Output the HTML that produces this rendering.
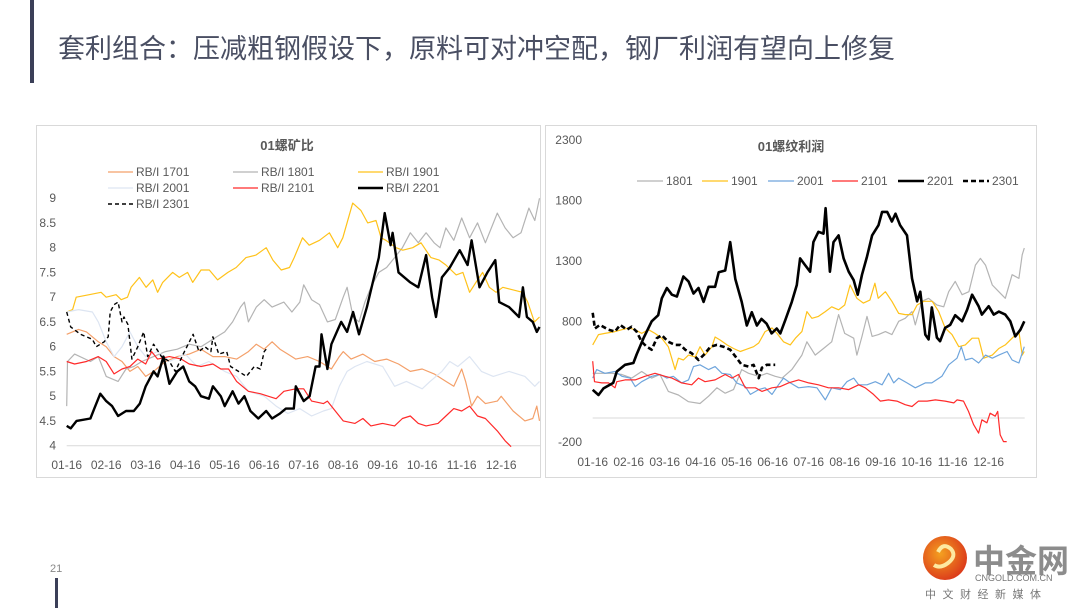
<!DOCTYPE html>
<html><head><meta charset="utf-8">
<style>
body{margin:0;width:1080px;height:608px;overflow:hidden;background:#fff;font-family:"Liberation Sans","Noto Sans CJK SC",sans-serif;}
svg text{font-family:"Liberation Sans","Noto Sans CJK SC",sans-serif;}
</style></head>
<body>
<svg id="s" width="1080" height="608" xmlns="http://www.w3.org/2000/svg">
<rect x="30" y="0" width="4" height="83" fill="#3b3f58"/>
<text x="58" y="58" font-size="27" fill="#4a4f63">套利组合：压减粗钢假设下，原料可对冲空配，钢厂利润有望向上修复</text>
<rect x="55" y="578" width="3" height="30" fill="#3b3f58"/>
<text x="50" y="572" font-size="11" fill="#888">21</text>

<g id="L">
<rect x="36.5" y="125.5" width="504" height="352" fill="#fff" stroke="#d9d9d9"/>
<text x="287" y="150" font-size="13" font-weight="bold" fill="#595959" text-anchor="middle">01螺矿比</text>
</g>
<g id="R">
<rect x="545.5" y="125.5" width="491" height="352" fill="#fff" stroke="#d9d9d9"/>
<text x="791" y="151" font-size="13" font-weight="bold" fill="#595959" text-anchor="middle">01螺纹利润</text>
</g>

<g>
<defs><radialGradient id="lg" cx="0.4" cy="0.4" r="0.7"><stop offset="0" stop-color="#f4a020"/><stop offset="1" stop-color="#d9301a"/></radialGradient></defs>
<circle cx="945" cy="558" r="22" fill="url(#lg)"/>
<path d="M938 552 q5 -10 13 -3 q6 7 -3 14 q-8 6 -14 2" fill="none" stroke="#fde9a0" stroke-width="4"/>
<text x="973" y="572" font-size="32" font-weight="bold" fill="#8c8c8c">中金网</text>
<text x="975" y="581" font-size="9" fill="#777">CNGOLD.COM.CN</text>
<text x="925" y="598" font-size="11" fill="#777" letter-spacing="6.5">中文财经新媒体</text>
</g>
</svg>
<script>
// ---- Left chart data: [month offset from 01-16, ratio] ----
const leftMonths=["01-16","02-16","03-16","04-16","05-16","06-16","07-16","08-16","09-16","10-16","11-16","12-16"];
const leftTicks=[4,4.5,5,5.5,6,6.5,7,7.5,8,8.5,9];
const rb1701=[[0,6.25],[0.3,6.35],[0.5,6.3],[0.8,6.1],[1.0,6.0],[1.2,5.8],[1.4,5.7],[1.6,5.5],[1.8,5.6],[2.0,5.4],[2.2,5.5],[2.5,5.7],[2.8,5.8],[3.1,5.85],[3.4,5.95],[3.7,5.8],[4.0,5.8],[4.3,5.75],[4.6,5.9],[4.8,6.05],[5.0,5.95],[5.2,6.1],[5.4,5.95],[5.6,5.85],[5.8,5.75],[6.1,5.8],[6.4,5.7],[6.7,5.55],[6.9,5.8],[7.0,5.9],[7.2,5.75],[7.5,5.85],[7.8,5.7],[8.1,5.75],[8.4,5.65],[8.7,5.5],[9.0,5.55],[9.3,5.45],[9.6,5.3],[9.8,5.2],[10.0,5.55],[10.1,5.3],[10.25,4.8],[10.4,5.0],[10.6,4.85],[10.9,4.9],[11.0,5.0],[11.3,4.7],[11.6,4.5],[11.8,4.55],[11.9,4.8],[11.97,4.5]];
const rb1801=[[0,4.8],[0.02,5.7],[0.2,5.85],[0.6,5.7],[0.8,5.8],[1.0,5.4],[1.3,5.3],[1.5,5.55],[1.7,5.6],[1.9,5.7],[2.2,5.8],[2.5,5.9],[2.8,5.95],[3.1,6.05],[3.4,6.0],[3.6,6.1],[3.8,6.2],[4.0,6.3],[4.2,6.5],[4.4,6.8],[4.5,6.9],[4.6,6.5],[4.8,6.8],[5.0,6.95],[5.2,6.8],[5.5,6.9],[5.7,6.7],[5.9,6.9],[6.0,7.25],[6.2,6.95],[6.4,6.85],[6.6,6.5],[6.8,6.55],[7.0,7.0],[7.1,7.2],[7.25,6.6],[7.4,6.5],[7.55,6.9],[7.7,7.2],[7.9,7.5],[8.1,7.6],[8.3,7.8],[8.5,8.0],[8.7,8.3],[8.9,8.1],[9.1,8.3],[9.3,8.1],[9.45,8.0],[9.6,8.4],[9.8,8.15],[10.0,8.6],[10.2,8.2],[10.4,8.5],[10.6,8.1],[10.9,8.7],[11.1,8.4],[11.3,8.2],[11.5,8.3],[11.7,8.8],[11.85,8.55],[11.97,9.0]];
const rb1901=[[0,6.7],[0.15,6.75],[0.24,7.0],[0.57,7.05],[0.87,7.1],[1.0,7.0],[1.25,7.05],[1.38,6.95],[1.54,7.0],[1.63,7.2],[1.84,7.4],[2.01,7.2],[2.18,7.35],[2.3,7.1],[2.43,7.3],[2.68,7.5],[2.85,7.4],[3.06,7.5],[3.19,7.3],[3.4,7.55],[3.61,7.55],[3.82,7.35],[4.08,7.5],[4.29,7.6],[4.54,7.8],[4.79,7.85],[5.05,8.0],[5.22,7.75],[5.43,7.55],[5.64,7.6],[5.76,7.8],[5.97,8.2],[6.14,8.05],[6.4,8.15],[6.65,8.3],[6.86,8.0],[6.99,8.2],[7.24,8.9],[7.45,8.75],[7.62,8.5],[7.83,8.55],[7.96,8.2],[8.08,8.15],[8.34,8.0],[8.51,7.95],[8.76,8.0],[8.97,8.1],[9.22,7.8],[9.43,7.75],[9.6,7.65],[9.86,7.45],[10.03,7.5],[10.2,7.1],[10.36,7.3],[10.53,7.5],[10.7,7.2],[10.87,7.1],[11.04,7.2],[11.29,7.15],[11.54,7.1],[11.67,6.9],[11.84,6.5],[11.97,6.6]];
const rb2001=[[0,6.7],[0.3,6.75],[0.65,6.7],[0.8,6.5],[1.0,6.1],[1.2,5.8],[1.4,6.0],[1.6,6.3],[1.8,6.0],[2.0,5.8],[2.3,5.9],[2.6,5.7],[3.0,5.85],[3.3,5.6],[3.6,5.7],[4.0,5.5],[4.3,5.4],[4.6,5.1],[5.0,5.0],[5.3,4.8],[5.6,4.65],[5.9,4.75],[6.2,4.6],[6.5,4.7],[6.7,4.75],[6.9,5.2],[7.1,5.5],[7.3,5.6],[7.6,5.7],[8.0,5.6],[8.3,5.2],[8.6,5.3],[9.0,5.15],[9.2,5.3],[9.5,5.5],[9.7,5.7],[9.9,5.6],[10.2,5.8],[10.5,5.5],[10.8,5.4],[11.2,5.5],[11.6,5.4],[11.85,5.2],[11.97,5.3]];
const rb2101=[[0,5.7],[0.2,5.65],[0.5,5.7],[0.8,5.8],[1.0,5.7],[1.2,5.45],[1.4,5.55],[1.6,5.6],[1.8,5.75],[2.0,5.65],[2.15,5.9],[2.3,5.75],[2.6,5.8],[2.9,5.75],[3.1,5.65],[3.4,5.6],[3.7,5.65],[3.9,5.55],[4.1,5.55],[4.3,5.3],[4.6,5.1],[4.9,5.05],[5.1,5.0],[5.3,4.95],[5.5,5.1],[5.8,5.15],[6.0,5.15],[6.2,4.9],[6.5,4.85],[6.6,4.9],[6.8,4.7],[7.0,4.5],[7.3,4.45],[7.5,4.55],[7.7,4.4],[8.0,4.45],[8.3,4.4],[8.5,4.55],[8.7,4.6],[8.9,4.45],[9.1,4.4],[9.4,4.45],[9.6,4.6],[9.8,4.75],[10.0,4.7],[10.2,4.8],[10.4,4.6],[10.6,4.55],[10.9,4.3],[11.1,4.1],[11.25,3.98]];
const rb2201=[[0,4.4],[0.1,4.35],[0.25,4.5],[0.6,4.55],[0.7,4.75],[0.85,5.05],[1.0,4.9],[1.15,4.8],[1.3,4.6],[1.5,4.7],[1.7,4.7],[1.85,4.85],[2.0,5.2],[2.2,5.5],[2.3,5.4],[2.45,5.8],[2.6,5.25],[2.8,5.5],[2.95,5.6],[3.1,5.3],[3.25,5.2],[3.4,5.0],[3.6,4.95],[3.7,5.2],[3.9,5.0],[4.0,4.8],[4.2,5.1],[4.35,4.85],[4.5,5.0],[4.65,4.7],[4.85,4.55],[5.05,4.7],[5.2,4.55],[5.4,4.65],[5.55,4.75],[5.75,4.75],[5.8,5.2],[6.0,4.9],[6.15,5.0],[6.3,5.6],[6.4,5.6],[6.45,6.25],[6.6,5.55],[6.7,6.05],[6.95,6.5],[7.1,6.3],[7.25,6.7],[7.4,6.25],[7.6,6.8],[7.75,7.3],[7.9,7.8],[8.05,8.7],[8.2,8.05],[8.25,8.3],[8.4,7.5],[8.7,7.3],[8.9,7.2],[9.1,7.85],[9.25,7.0],[9.35,6.6],[9.5,7.4],[9.7,7.6],[9.95,7.95],[10.15,7.65],[10.25,8.15],[10.45,7.2],[10.65,7.5],[10.85,7.75],[10.95,6.9],[11.2,6.8],[11.45,6.6],[11.55,7.2],[11.65,6.6],[11.8,6.5],[11.9,6.3],[11.97,6.4]];
const rb2301=[[0,6.7],[0.1,6.4],[0.35,6.25],[0.65,6.15],[0.75,6.0],[0.95,6.1],[1.05,6.2],[1.1,6.7],[1.2,6.85],[1.3,6.9],[1.4,6.5],[1.45,6.6],[1.55,6.45],[1.65,5.75],[1.8,6.0],[1.95,6.3],[2.05,5.8],[2.2,6.05],[2.4,5.8],[2.6,5.7],[2.75,5.5],[2.95,5.85],[3.2,6.25],[3.35,5.9],[3.5,6.0],[3.65,5.9],[3.7,6.2],[3.85,5.85],[4.05,5.9],[4.15,5.6],[4.35,5.5],[4.55,5.4],[4.75,5.6],[4.9,5.55],[5.0,5.9],[5.05,5.95]];

// ---- Right chart data: [month offset, profit] ----
const rightMonths=leftMonths;
const rightTicks=[-200,300,800,1300,1800,2300];
const p1801=[[0,370],[0.25,370],[0.53,370],[0.81,360],[1.08,330],[1.36,385],[1.64,330],[1.87,360],[2.1,220],[2.38,190],[2.66,135],[2.98,120],[3.22,180],[3.45,250],[3.68,205],[3.91,235],[4.14,400],[4.33,370],[4.61,345],[4.84,370],[5.07,345],[5.26,330],[5.53,400],[5.81,520],[5.95,630],[6.18,520],[6.41,575],[6.64,630],[6.83,855],[7.0,700],[7.25,660],[7.34,520],[7.48,675],[7.62,840],[7.76,675],[7.94,690],[8.13,715],[8.31,690],[8.5,800],[8.68,825],[8.87,880],[8.96,770],[9.14,965],[9.33,990],[9.56,935],[9.75,920],[9.89,1045],[10.07,1130],[10.26,1020],[10.45,1045],[10.63,1265],[10.77,1320],[10.91,1265],[11.1,1100],[11.28,1045],[11.46,990],[11.65,1185],[11.84,1155],[11.93,1350],[11.99,1405]];
const p1901=[[0,605],[0.16,690],[0.34,700],[0.62,715],[0.81,730],[1.0,745],[1.18,730],[1.36,700],[1.55,730],[1.73,700],[1.92,660],[2.1,590],[2.29,400],[2.38,495],[2.52,480],[2.66,520],[2.85,505],[2.98,590],[3.12,520],[3.31,590],[3.4,670],[3.54,645],[3.73,605],[3.91,575],[4.1,550],[4.24,565],[4.47,590],[4.61,620],[4.79,715],[4.98,745],[5.12,700],[5.3,630],[5.49,605],[5.63,660],[5.81,715],[5.95,880],[6.09,825],[6.27,840],[6.46,880],[6.64,920],[6.83,895],[7.0,935],[7.15,1100],[7.34,990],[7.52,950],[7.7,975],[7.84,1115],[7.93,990],[8.13,1045],[8.31,965],[8.5,865],[8.68,855],[8.87,855],[9.01,935],[9.2,965],[9.43,965],[9.61,880],[9.79,745],[9.98,690],[10.17,590],[10.35,605],[10.54,660],[10.72,660],[10.86,495],[11.1,520],[11.28,575],[11.46,605],[11.65,660],[11.84,715],[11.93,520],[11.99,550]];
const p2001=[[0,330],[0.11,400],[0.34,370],[0.62,385],[0.81,345],[1.04,330],[1.18,260],[1.36,300],[1.64,345],[1.87,360],[2.06,330],[2.24,345],[2.47,290],[2.66,315],[2.8,425],[2.98,440],[3.22,400],[3.4,425],[3.59,370],[3.82,360],[4.0,290],[4.24,260],[4.38,195],[4.61,235],[4.79,250],[4.98,195],[5.16,275],[5.3,330],[5.49,290],[5.72,250],[6.0,260],[6.23,250],[6.46,150],[6.64,250],[6.88,235],[7.06,300],[7.25,330],[7.39,275],[7.62,275],[7.85,300],[8.04,275],[8.22,370],[8.36,290],[8.5,330],[8.73,290],[8.96,250],[9.24,290],[9.42,290],[9.7,345],[9.89,440],[10.12,495],[10.24,590],[10.35,480],[10.54,495],[10.72,455],[10.91,520],[11.1,495],[11.28,520],[11.51,550],[11.65,480],[11.84,455],[11.99,590]];
const p2101=[[0,470],[0.05,300],[0.25,290],[0.44,290],[0.62,250],[0.67,300],[0.9,315],[1.18,315],[1.45,345],[1.73,370],[2.01,345],[2.2,330],[2.47,290],[2.75,275],[2.94,330],[3.12,300],[3.4,315],[3.68,360],[3.87,330],[4.05,360],[4.24,250],[4.52,250],[4.7,220],[4.98,250],[5.21,260],[5.44,290],[5.72,315],[6.0,290],[6.27,275],[6.55,250],[6.83,250],[7.11,235],[7.39,275],[7.57,250],[7.8,195],[7.99,140],[8.22,150],[8.45,140],[8.68,110],[8.87,95],[9.05,140],[9.29,140],[9.52,150],[9.79,140],[10.03,125],[10.12,150],[10.3,140],[10.44,55],[10.58,-55],[10.72,-125],[10.81,-15],[10.95,-40],[11.04,40],[11.18,15],[11.25,55],[11.32,-140],[11.41,-195],[11.5,-195]];
const p2201=[[0,233],[0.16,190],[0.3,245],[0.57,290],[0.67,385],[0.9,440],[1.13,455],[1.22,525],[1.41,660],[1.64,800],[1.82,850],[1.92,990],[2.06,1075],[2.2,1020],[2.34,1005],[2.52,1170],[2.66,1130],[2.8,1030],[2.94,1075],[3.08,960],[3.22,1085],[3.4,1085],[3.5,1205],[3.68,1220],[3.82,1455],[3.96,1150],[4.14,960],[4.28,765],[4.42,875],[4.56,765],[4.69,820],[4.83,780],[4.97,700],[5.11,740],[5.21,700],[5.35,810],[5.53,960],[5.67,1100],[5.76,1320],[5.9,1265],[6.04,1210],[6.13,1455],[6.27,1540],[6.41,1525],[6.47,1735],[6.59,1210],[6.69,1455],[6.83,1510],[6.97,1320],[7.11,1210],[7.25,1140],[7.36,1020],[7.48,1185],[7.62,1335],[7.76,1510],[7.94,1595],[8.04,1705],[8.18,1705],[8.31,1625],[8.41,1690],[8.54,1595],[8.73,1510],[8.87,1155],[9.01,965],[9.1,1045],[9.24,690],[9.33,650],[9.42,915],[9.56,665],[9.65,635],[9.79,745],[9.93,770],[10.07,850],[10.26,800],[10.4,895],[10.54,1020],[10.72,925],[10.81,855],[11.0,925],[11.14,855],[11.28,880],[11.46,855],[11.6,800],[11.74,675],[11.88,730],[11.99,800]];
const p2301=[[0,870],[0.06,740],[0.2,770],[0.44,730],[0.62,715],[0.76,770],[0.95,730],[1.08,755],[1.22,715],[1.36,630],[1.5,590],[1.64,565],[1.78,660],[1.92,685],[2.1,630],[2.29,605],[2.43,605],[2.57,565],[2.75,535],[2.94,480],[3.08,520],[3.27,590],[3.45,605],[3.63,590],[3.82,565],[3.96,510],[4.14,440],[4.33,425],[4.47,440],[4.61,330],[4.7,415],[4.84,440],[5.07,440]];

const NS="http://www.w3.org/2000/svg";
function mk(parent,tag,attrs){const e=document.createElementNS(NS,tag);for(const k in attrs)e.setAttribute(k,attrs[k]);parent.appendChild(e);return e;}

function drawChart(gid,xs,ys,ticks,months,series,legend){
  const g=document.getElementById(gid);
  const base=ticks.includes(0)?0:(gid==='R'?0:ticks[0]);
  const ax=mk(g,'line',{x1:xs(0),x2:xs(12),y1:ys(base),y2:ys(base),stroke:'#d9d9d9','stroke-width':1});
  
  
  ticks.forEach(v=>{
    const t=mk(g,'text',{x:legend.tx,y:ys(v)+4,'font-size':12,fill:'#595959','text-anchor':'end'});
    t.textContent=String(v);
    
    
  });
  months.forEach((m,i)=>{
    const t=mk(g,'text',{x:xs(i),y:legend.xy,'font-size':12,fill:'#595959','text-anchor':'middle'});
    t.textContent=m;
    
    
  });
  series.forEach(s=>{
    const d=s.data.map((p,i)=>(i?'L':'M')+xs(p[0]).toFixed(1)+' '+ys(p[1]).toFixed(1)).join(' ');
    const p=mk(g,'path',{d:d,fill:'none',stroke:s.c,'stroke-width':s.w,'stroke-linejoin':'round'});
    if(s.dash)p.setAttribute('stroke-dasharray',s.dash);
    
    
  });
  series.forEach((s,i)=>{
    const [lx,ly]=legend.pos[i];
    const l=mk(g,'line',{x1:lx,x2:lx+legend.len,y1:ly,y2:ly,stroke:s.c,'stroke-width':Math.max(s.w,1.2)});
    if(s.dash)l.setAttribute('stroke-dasharray',s.dash);
    
    
    const t=mk(g,'text',{x:lx+legend.len+3,y:ly+4,'font-size':12,fill:'#595959'});
    t.textContent=s.n;
    
    
  });
}

const lx=t=>66.7+t*39.5, ly=v=>445.7-(v-4)*49.5;
drawChart('L',lx,ly,leftTicks,leftMonths,[
 {n:'RB/I  1701',data:rb1701,c:'#f4a06a',w:1.2},
 {n:'RB/I  1801',data:rb1801,c:'#b4b4b4',w:1.2},
 {n:'RB/I  1901',data:rb1901,c:'#ffc21a',w:1.2},
 {n:'RB/I  2001',data:rb2001,c:'#dde5f2',w:1.2},
 {n:'RB/I  2101',data:rb2101,c:'#ff2a2a',w:1.2},
 {n:'RB/I  2201',data:rb2201,c:'#000',w:2.4},
 {n:'RB/I  2301',data:rb2301,c:'#000',w:1.4,dash:'4 3'}
],{tx:56,xy:469,len:25,pos:[[108,172],[233,172],[358,172],[108,188],[233,188],[358,188],[108,204]]});

const rx=t=>592.7+t*36, ry=v=>418-v*0.1209;
drawChart('R',rx,ry,rightTicks,rightMonths,[
 {n:'1801',data:p1801,c:'#b4b4b4',w:1.2},
 {n:'1901',data:p1901,c:'#ffc21a',w:1.2},
 {n:'2001',data:p2001,c:'#6fa5dc',w:1.2},
 {n:'2101',data:p2101,c:'#ff2a2a',w:1.2},
 {n:'2201',data:p2201,c:'#000',w:2.6},
 {n:'2301',data:p2301,c:'#000',w:2.6,dash:'5 3'}
],{tx:582,xy:466,len:26,pos:[[637,181],[702,181],[768,181],[832,181],[898,181],[963,181]]});
</script>
</body></html>
